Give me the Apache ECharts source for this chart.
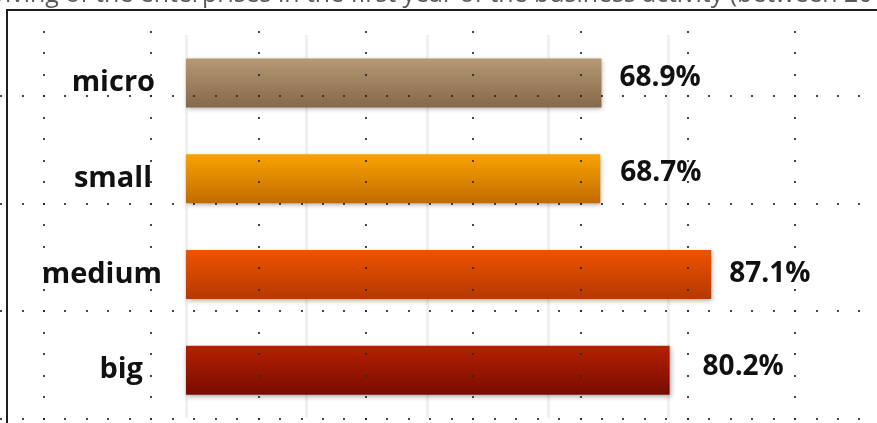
<!DOCTYPE html>
<html><head><meta charset="utf-8">
<script src="https://cdn.jsdelivr.net/npm/echarts@6/dist/echarts.min.js"></script>
<style>html,body{margin:0;padding:0;background:#fff}#c{width:877px;height:423px}</style>
</head><body><div id="c"></div>
<script>
// ---- data ----
const categories = ['micro', 'small', 'medium', 'big'];
const values = [68.9, 68.7, 87.1, 80.2];
const titleText = 'The surviving of the enterprises in the first year of the business activity (between 2016-2018)';

// ---- styling (not data) ----
const barColors = [
  ['#b59a74', '#86684a'],
  ['#f9a300', '#c26b00'],
  ['#ef5300', '#b53900'],
  ['#b52100', '#790b00']
];
const valueLabelTweak = [
  { distance: 18, dy: -5 },
  { distance: 20, dy: -6 },
  { distance: 18, dy: 0 },
  { distance: 33, dy: -3 }
];
const catLabelPadRight = [7, 10, 0, 19];

const FONT = '"Open Sans", "Noto Sans", sans-serif';

// dotted drawing-grid overlay and frame (decoration)
function makeDots() {
  const cv = document.createElement('canvas');
  cv.width = 877; cv.height = 423;
  const ctx = cv.getContext('2d');
  ctx.fillStyle = 'rgba(40,40,40,0.85)';
  const colStep = 107.3, rowStep = 107.7, dotStep = 21.5;
  for (let k = 0; k < 9; k++) {
    const x = 43 + k * colStep;
    for (let j = -4; j < 16; j++) {
      const y = 95 + j * dotStep;
      ctx.fillRect(Math.round(x), Math.round(y), 2, 2);
    }
  }
  for (let k = 0; k < 4; k++) {
    const y = 95 + k * rowStep;
    for (let j = -2; j < 40; j++) {
      const x = 43 + j * (colStep / 5);
      ctx.fillRect(Math.round(x), Math.round(y), 2, 2);
    }
  }
  ctx.fillStyle = '#1e1e1e';
  ctx.fillRect(6, 9, 877, 2);
  ctx.fillRect(6, 9, 2, 423);
  return cv;
}

// measure title so the visible part lines up
const mc = document.createElement('canvas').getContext('2d');
mc.font = '20px "Open Sans"';
const refW = mc.measureText('iving of the enterprises in the first yea').width;
const titleFs = 20 * 438 / refW;
mc.font = titleFs + 'px "Open Sans"';
const titleX = 5 - mc.measureText('The surv').width;

const chart = echarts.init(document.getElementById('c'), null, { renderer: 'canvas' });
chart.setOption({
  backgroundColor: '#ffffff',
  animation: false,
  grid: { left: 186, right: 88, top: 35, bottom: 5, containLabel: false, outerBoundsMode: 'none' },
  xAxis: {
    type: 'value', min: 0, max: 100, interval: 20,
    axisLabel: { show: false }, axisLine: { show: false }, axisTick: { show: false },
    splitLine: { show: true, showMaxLine: false, lineStyle: { color: '#f0f0f0', width: 3 } }
  },
  yAxis: {
    type: 'category', inverse: true,
    data: categories.map((c, i) => ({ value: c, textStyle: { padding: [0, catLabelPadRight[i], 0, 0] } })),
    axisLine: { show: false }, axisTick: { show: false },
    axisLabel: { margin: 24, align: 'right', fontFamily: FONT, fontWeight: 'bold', fontSize: 29, color: '#111' }
  },
  series: [{
    type: 'bar',
    barWidth: 49,
    data: values.map((v, i) => ({
      value: v,
      itemStyle: {
        color: new echarts.graphic.LinearGradient(0, 0, 0, 1, [
          { offset: 0, color: barColors[i][0] },
          { offset: 1, color: barColors[i][1] }
        ]),
        shadowBlur: 5, shadowColor: 'rgba(0,0,0,0.35)', shadowOffsetX: 1, shadowOffsetY: 2
      },
      label: { distance: valueLabelTweak[i].distance, offset: [0, valueLabelTweak[i].dy] }
    })),
    label: {
      show: true, position: 'right',
      formatter: p => p.value.toFixed(1) + '%',
      fontFamily: FONT, fontWeight: 'bold', fontSize: 28, color: '#111'
    }
  }],
  graphic: [
    { type: 'text', silent: true, z: 50, x: titleX, y: 7,
      style: { text: titleText, font: titleFs + 'px "Open Sans"', fill: '#5a5a5a', verticalAlign: 'bottom' } },
    { type: 'image', silent: true, z: 60,
      style: { image: makeDots(), x: 0, y: 0, width: 877, height: 423 } }
  ]
});
</script>
</body></html>
